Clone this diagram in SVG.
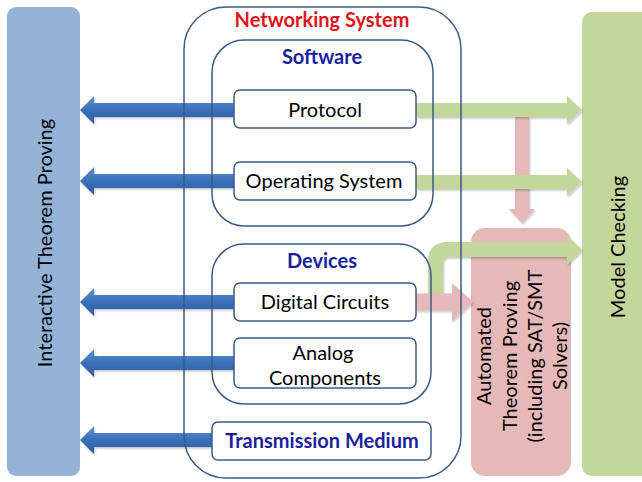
<svg xmlns="http://www.w3.org/2000/svg" width="642" height="482" viewBox="0 0 642 482">
  <defs>
    <linearGradient id="blueFill" x1="0" y1="0" x2="0" y2="1">
      <stop offset="0" stop-color="#5a8fd2"/>
      <stop offset="0.5" stop-color="#3a70b9"/>
      <stop offset="1" stop-color="#2b5c9f"/>
    </linearGradient>
    <filter id="soft" x="-10%" y="-30%" width="120%" height="160%">
      <feDropShadow dx="1" dy="1.5" stdDeviation="1.2" flood-color="#000" flood-opacity="0.25"/>
    </filter>
  </defs>
  <style>
    text { font-family: "Lato", "Open Sans", "Liberation Sans", sans-serif; font-size: 20px; fill: #000; text-anchor: middle; }
    .title { font-weight: bold; fill: #e0141b; }
    .head { font-weight: bold; fill: #1a1f9c; }
    .side { font-size: 20px; }
    .frame { fill: none; stroke: #3b5a86; stroke-width: 1.5; }
    .box { fill: #fff; stroke: #3b5a86; stroke-width: 1.5; }
    .blue { fill: url(#blueFill); filter: url(#soft); }
    .green { fill: #c3d69b; filter: url(#soft); }
    .pink { fill: #e6b9b8; filter: url(#soft); }
  </style>

  <rect width="642" height="482" fill="#fff"/>

  <!-- Side panels -->
  <g id="interactive-theorem-proving">
    <rect x="7" y="7" width="73" height="469" rx="9" fill="#95b3d7"/>
    <text class="side" transform="translate(52,243) rotate(-90)">Interactive Theorem Proving</text>
  </g>
  <g id="model-checking">
    <rect x="582" y="12" width="70" height="464" rx="10" fill="#c3d69b"/>
    <text class="side" transform="translate(625,247) rotate(-90)">Model Checking</text>
  </g>
  <g id="automated-theorem-proving">
    <rect x="471" y="228" width="100" height="248" rx="14" fill="#e6b9b8"/>
    <text class="side" transform="translate(491,356) rotate(-90)">Automated</text>
    <text class="side" transform="translate(517,356) rotate(-90)">Theorem Proving</text>
    <text class="side" transform="translate(542,356) rotate(-90)">(including SAT/SMT</text>
    <text class="side" transform="translate(567,356) rotate(-90)">Solvers)</text>
  </g>

  <!-- Connectors -->
  <g id="connectors">
    <!-- to interactive theorem proving -->
    <polygon class="blue" points="234,103 94,103 94,96 80,110 94,124 94,117 234,117"/>
    <polygon class="blue" points="234,174 94,174 94,167 80,181 94,195 94,188 234,188"/>
    <polygon class="blue" points="234,295 94,295 94,288 80,302 94,316 94,309 234,309"/>
    <polygon class="blue" points="234,356 94,356 94,349 80,363 94,377 94,370 234,370"/>
    <polygon class="blue" points="212,433 94,433 94,426 80,440 94,454 94,447 212,447"/>
    <!-- protocol down to automated theorem proving -->
    <polygon class="pink" points="515,117 529,117 529,209 535,209 522,223 509,209 515,209"/>
    <!-- to model checking -->
    <polygon class="green" points="416,103 567,103 567,96 582,110 567,124 567,117 416,117"/>
    <polygon class="green" points="416,175 567,175 567,168 582,182 567,196 567,189 416,189"/>
    <path class="green" d="M428,305 V262 Q428,242 448,242 H567 V235 L582,250 L567,265 V257 H449 Q443,257 443,263 V305 Z"/>
    <!-- digital circuits to automated theorem proving -->
    <polygon class="pink" points="416,293.5 452,293.5 452,283 473,302 452,321 452,310.5 416,310.5"/>
  </g>

  <!-- Containers -->
  <g id="networking-system">
    <rect class="frame" x="184" y="7" width="277" height="471" rx="42"/>
    <text class="title" x="322" y="27">Networking System</text>
  </g>
  <g id="software">
    <rect class="frame" x="212" y="40" width="221" height="186" rx="32"/>
    <text class="head" x="322" y="64">Software</text>
  </g>
  <g id="devices">
    <rect class="frame" x="212" y="244" width="219" height="160" rx="32"/>
    <text class="head" x="322" y="268">Devices</text>
  </g>

  <!-- Component boxes -->
  <g id="protocol">
    <rect class="box" x="234" y="90" width="182" height="38" rx="6"/>
    <text x="325" y="117">Protocol</text>
  </g>
  <g id="operating-system">
    <rect class="box" x="234" y="162" width="182" height="38" rx="6"/>
    <text x="324" y="188">Operating System</text>
  </g>
  <g id="digital-circuits">
    <rect class="box" x="234" y="283" width="182" height="38" rx="6"/>
    <text x="325" y="309">Digital Circuits</text>
  </g>
  <g id="analog-components">
    <rect class="box" x="234" y="338" width="182" height="50" rx="6"/>
    <text x="323" y="360">Analog</text>
    <text x="325" y="385">Components</text>
  </g>
  <g id="transmission-medium">
    <rect class="box" x="212" y="422" width="219" height="38" rx="6"/>
    <text class="head" x="322" y="448">Transmission Medium</text>
  </g>
</svg>
